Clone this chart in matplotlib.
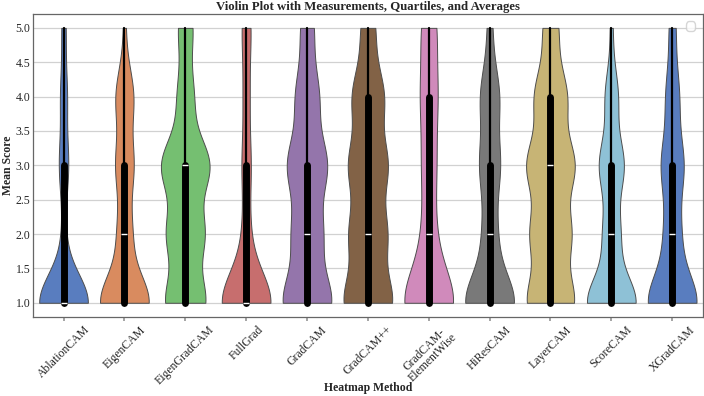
import numpy as np
import pandas as pd
import matplotlib
matplotlib.use('Agg')
import matplotlib.pyplot as plt
import seaborn as sns

methods = ['AblationCAM', 'EigenCAM', 'EigenGradCAM', 'FullGrad', 'GradCAM', 'GradCAM++',
           'GradCAM-\nElementWise', 'HiResCAM', 'LayerCAM', 'ScoreCAM', 'XGradCAM']
scores = [1, 2, 3, 4, 5]

# number of ratings at each score (1..5), one list per method
ablationcam = [180, 12, 33, 24, 15]
eigencam = [126, 36, 45, 45, 6]
eigengradcam = [75, 69, 90, 30, 27]
fullgrad = [174, 24, 30, 21, 30]
gradcam = [90, 54, 72, 42, 24]
gradcampp = [84, 63, 66, 54, 24]
gradcam_elementwise = [126, 30, 33, 39, 36]
hirescam = [120, 33, 48, 45, 12]
layercam = [75, 63, 75, 51, 24]
scorecam = [114, 39, 57, 30, 6]
xgradcam = [114, 36, 51, 30, 15]

counts = [ablationcam, eigencam, eigengradcam, fullgrad, gradcam, gradcampp,
          gradcam_elementwise, hirescam, layercam, scorecam, xgradcam]

rows = []
for method, c in zip(methods, counts):
    for s, n in zip(scores, c):
        rows += [(method, s)] * n
df = pd.DataFrame(rows, columns=['Heatmap Method', 'Mean Score'])

sns.set_theme(style='whitegrid')
plt.rcParams['font.family'] = ['Liberation Serif', 'DejaVu Serif']

fig, ax = plt.subplots(figsize=(7.04, 3.96), dpi=100)
sns.violinplot(data=df, x='Heatmap Method', y='Mean Score', hue='Heatmap Method',
               palette='muted', cut=0, inner='box', density_norm='width',
               linewidth=0.7, linecolor='0.3', legend=False, ax=ax,
               inner_kws=dict(box_width=5, whis_width=1.6, color='black'))

ax.set_title('Violin Plot with Measurements, Quartiles, and Averages',
             fontsize=9.2, fontweight='bold', pad=3)
ax.set_xlabel('Heatmap Method', fontsize=8.5, fontweight='bold')
ax.set_ylabel('Mean Score', fontsize=8.5, fontweight='bold')
ax.xaxis.set_label_coords(0.5, -0.215)
ax.yaxis.set_label_coords(-0.029, 0.5)
ax.set_ylim(0.796, 5.204)
ax.set_yticks(np.arange(1.0, 5.01, 0.5))
ax.set_yticklabels([f'{v:.1f}' for v in np.arange(1.0, 5.01, 0.5)])
ax.tick_params(axis='y', labelsize=8.5, length=0, pad=2)
ax.tick_params(axis='x', labelsize=8.5, bottom=True, length=3, color='0.6', pad=2)
for lbl in ax.get_xticklabels():
    lbl.set_rotation(45)
    lbl.set_linespacing(0.9)
ax.grid(axis='x', visible=False)
ax.grid(axis='y', color='0.82', linewidth=0.9)
for spine in ax.spines.values():
    spine.set_color('0.4')
    spine.set_linewidth(0.9)
ax.legend(handles=[], loc='upper right', borderpad=0.3)

fig.subplots_adjust(left=0.047, right=0.998, top=0.965, bottom=0.2)
fig.savefig('out.png', dpi=100)
